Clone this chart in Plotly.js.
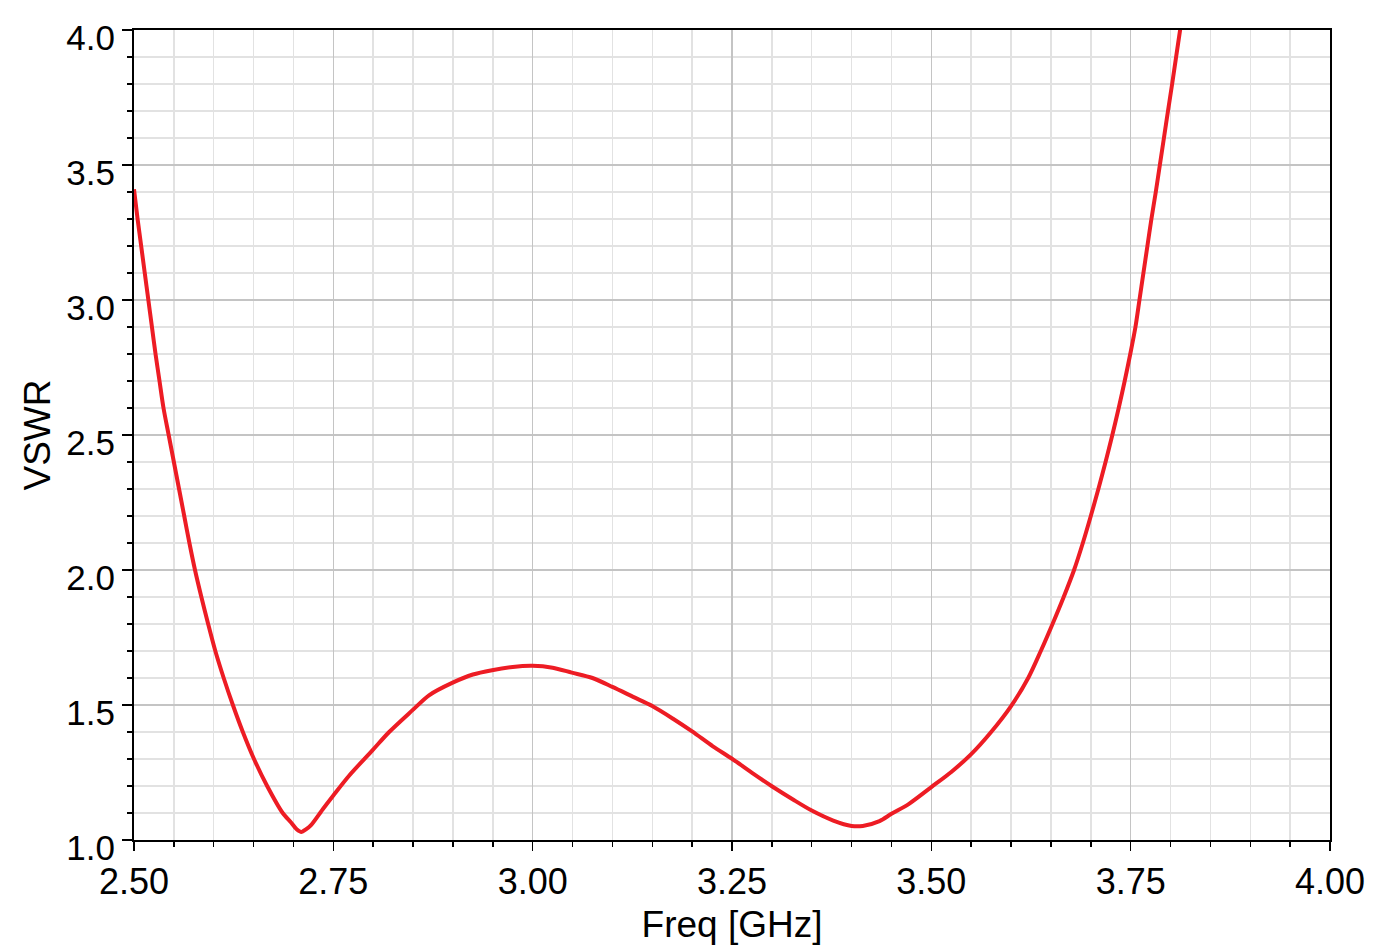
<!DOCTYPE html>
<html>
<head>
<meta charset="utf-8">
<script src="https://cdn.plot.ly/plotly-3.0.1.min.js"></script>
<style>html,body{margin:0;padding:0;background:#fff;}#chart{width:1378px;height:951px;}</style>
</head>
<body>
<div id="chart"></div>
<script>
const freq = [2.500,2.5045,2.509,2.5135,2.518,2.5225,2.527,2.532,2.537,2.5435,2.550,2.5565,2.563,2.5695,2.5765,2.5845,2.593,2.602,2.6125,2.624,2.6365,2.6505,2.667,2.6865,2.697,2.704,2.710,2.716,2.722,2.737,2.750,2.770,2.799,2.820,2.849,2.870,2.899,2.925,2.949,2.975,3.000,3.025,3.049,3.075,3.100,3.126,3.150,3.176,3.200,3.226,3.250,3.277,3.300,3.327,3.350,3.377,3.400,3.414,3.435,3.450,3.472,3.500,3.525,3.550,3.575,3.600,3.622,3.637,3.652,3.666,3.679,3.690,3.700,3.7095,3.7185,3.727,3.735,3.7425,3.7495,3.756,3.761,3.766,3.771,3.776,3.7815,3.7866,3.7917,3.7968,3.802,3.807,3.812,3.818];
const vswr = [3.41,3.30,3.20,3.10,3.00,2.90,2.80,2.70,2.60,2.50,2.40,2.30,2.20,2.10,2.00,1.90,1.80,1.70,1.60,1.50,1.40,1.30,1.20,1.10,1.065,1.04,1.030,1.040,1.055,1.115,1.165,1.239,1.332,1.400,1.480,1.536,1.582,1.613,1.629,1.641,1.645,1.638,1.620,1.600,1.567,1.530,1.496,1.449,1.402,1.347,1.301,1.245,1.199,1.149,1.109,1.072,1.052,1.052,1.070,1.097,1.134,1.196,1.252,1.318,1.400,1.496,1.603,1.698,1.80,1.90,2.00,2.10,2.20,2.30,2.40,2.50,2.60,2.70,2.80,2.90,3.00,3.10,3.20,3.30,3.40,3.50,3.60,3.70,3.80,3.90,4.00,4.12];
const xTicks = [2.50,2.75,3.00,3.25,3.50,3.75,4.00];
const xTickLabels = ["2.50","2.75","3.00","3.25","3.50","3.75","4.00"];
const yTicks = [1.0,1.5,2.0,2.5,3.0,3.5,4.0];
const yTickLabels = ["1.0","1.5","2.0","2.5","3.0","3.5","4.0"];

const FONT = '"Liberation Sans", Arial, sans-serif';
const trace = {
  x: freq, y: vswr, type: 'scatter', mode: 'lines',
  line: {color: '#ed1c24', width: 4, shape: 'spline', smoothing: 0.8},
  hoverinfo: 'x+y', showlegend: false
};
const layout = {
  width: 1378, height: 951,
  margin: {l: 134, r: 48, t: 30, b: 111},
  paper_bgcolor: '#ffffff', plot_bgcolor: '#ffffff',
  font: {family: FONT, color: '#000000'},
  showlegend: false,
  xaxis: {
    range: [2.5, 4.0], tickmode: 'array', tickvals: xTicks, ticktext: xTickLabels,
    ticks: 'outside', ticklen: 9, tickwidth: 1.5, tickcolor: '#000',
    tickfont: {family: FONT, size: 36, color: '#000'},
    showline: true, linecolor: '#000', linewidth: 2, mirror: true,
    showgrid: true, gridcolor: '#c4c4c4', gridwidth: 1.5,
    zeroline: false,
    minor: {dtick: 0.05, tick0: 2.5, showgrid: true, gridcolor: '#e2e2e2', gridwidth: 1.5, ticks: 'outside', ticklen: 5, tickcolor: '#000', tickwidth: 1.5},
    title: {text: 'Freq [GHz]', font: {family: FONT, size: 37, color: '#000'}, standoff: 10}
  },
  yaxis: {
    range: [1.0, 4.0], tickmode: 'array', tickvals: yTicks, ticktext: yTickLabels,
    ticks: 'outside', ticklen: 10, tickwidth: 1.5, tickcolor: '#000',
    tickfont: {family: FONT, size: 35, color: '#000'},
    ticklabelshift: 8,
    showline: true, linecolor: '#000', linewidth: 2, mirror: true,
    showgrid: true, gridcolor: '#c4c4c4', gridwidth: 1.5,
    zeroline: false,
    minor: {dtick: 0.1, tick0: 1.0, showgrid: true, gridcolor: '#e2e2e2', gridwidth: 1.5, ticks: 'outside', ticklen: 5, tickcolor: '#000', tickwidth: 1.5},
    title: {text: 'VSWR', font: {family: FONT, size: 37, color: '#000'}, standoff: 4}
  }
};
Plotly.newPlot('chart', [trace], layout, {staticPlot: true, displayModeBar: false});
</script>
</body>
</html>
